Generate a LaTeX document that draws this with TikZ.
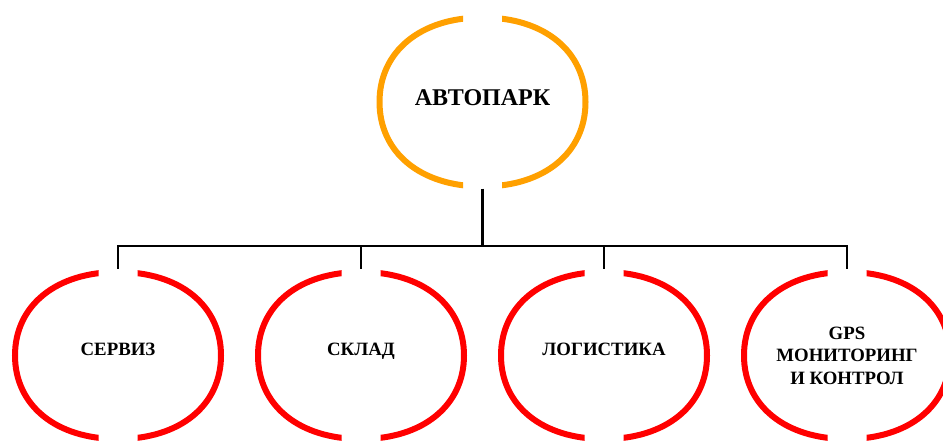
\documentclass[tikz,border=0pt]{standalone}
\usepackage{fontspec}
\setmainfont{Liberation Serif}
\usetikzlibrary{calc}
\definecolor{orng}{HTML}{FFA000}
\definecolor{rd}{HTML}{FF0000}
\tikzset{
  ringbox/.style={rectangle, draw=none, inner sep=0pt, minimum width=212pt, minimum height=173pt},
  lbl/.style={inner sep=0pt, align=center, anchor=base, font=\bfseries\fontsize{18.8}{22.5}\selectfont},
  toplbl/.style={lbl, font=\bfseries\fontsize{24}{27}\selectfont},
  ring/.style={line width=6pt, line cap=butt},
  link/.style={draw=black, line width=2pt},
}
% rounded ring with gaps at top and bottom: node, x radius, y radius, colour
\newcommand{\gapring}[4]{%
  \begin{scope}[shift={(#1.center)}]
    \clip (-140,-140) rectangle (-19.5,140) (19.5,-140) rectangle (140,140);
    \draw[ring, #4] (0,-#3) .. controls ({0.6*#2},-#3) and (#2,{-0.6*#3}) .. (#2,0)
      .. controls (#2,{0.6*#3}) and ({0.6*#2},#3) .. (0,#3)
      .. controls ({-0.6*#2},#3) and (-#2,{0.6*#3}) .. (-#2,0)
      .. controls (-#2,{-0.6*#3}) and ({-0.6*#2},-#3) .. (0,-#3) -- cycle;
  \end{scope}}
\begin{document}
\begin{tikzpicture}[x=1pt,y=-1pt]
\useasboundingbox (0,0) rectangle (943,441);
\clip (0,0) rectangle (943,441);
\node[ringbox] (top) at (482.5,102) {};
\node[ringbox] (s1) at (118,355.5) {};
\node[ringbox] (s2) at (361,355.5) {};
\node[ringbox] (s3) at (604,355.5) {};
\node[ringbox] (s4) at (847,355.5) {};
\node[toplbl] (t0) at (482.5,106) {АВТОПАРК};
\node[lbl] (t1) at (118,355) {СЕРВИЗ};
\node[lbl] (t2) at (361,355) {СКЛАД};
\node[lbl] (t3) at (604,355) {ЛОГИСТИКА};
\node[lbl, anchor=north] (t4) at (847,326.5) {GPS\\МОНИТОРИНГ\\И КОНТРОЛ};
\gapring{top}{103}{84.5}{orng}
\gapring{s1}{103}{83.5}{rd}
\gapring{s2}{103}{83.5}{rd}
\gapring{s3}{103}{83.5}{rd}
\gapring{s4}{103}{83.5}{rd}
\coordinate (bus) at (482.5,246);
\draw[link, line width=3pt] (top.south) -- (bus);
\draw[link] (s1.north) |- (bus) -| (s4.north);
\draw[link] (s2.north) -- (s2.north |- bus);
\draw[link] (s3.north) -- (s3.north |- bus);
\end{tikzpicture}
\end{document}
